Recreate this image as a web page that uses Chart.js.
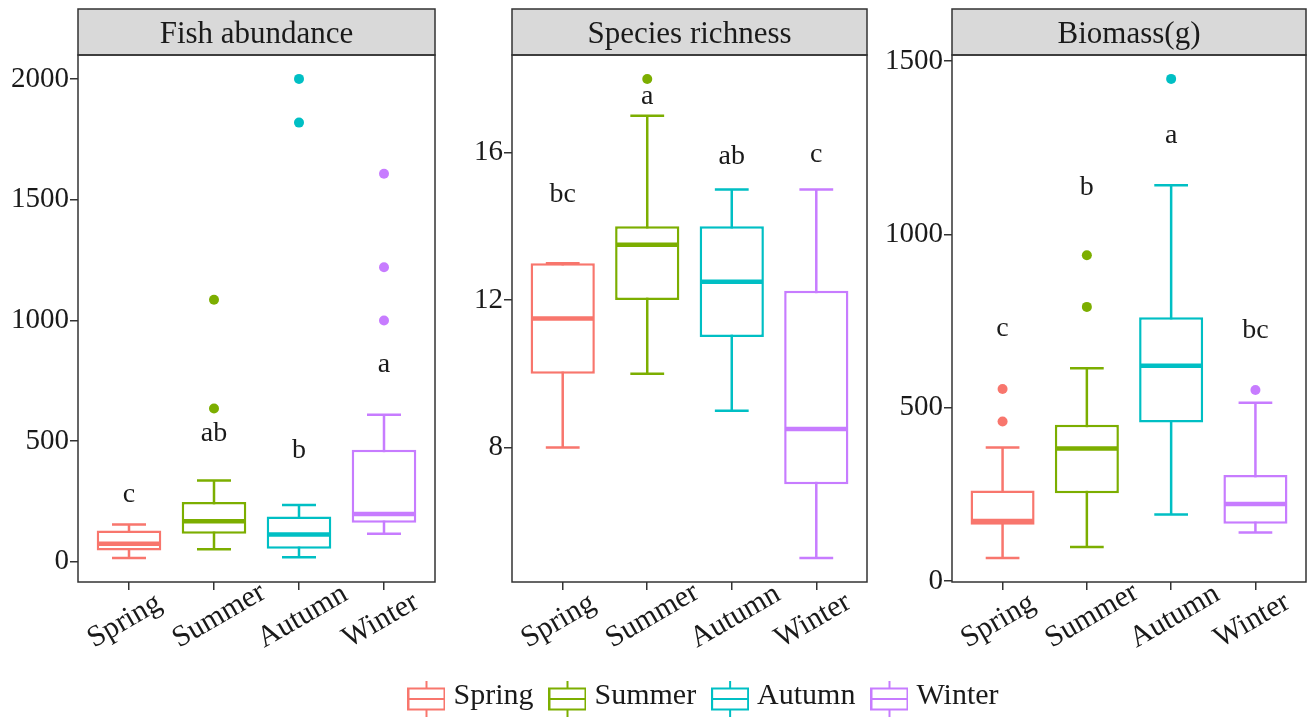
<!DOCTYPE html>
<html>
<head>
<meta charset="utf-8">
<script src="https://cdn.jsdelivr.net/npm/chart.js@4.4.0/dist/chart.umd.min.js"></script>
<style>
	body { margin: 0; background: #fff; width: 1311px; height: 718px; overflow: hidden; position: relative; }
	canvas { position: absolute; }
</style>
</head>
<body>
<canvas id="fish" width="440" height="665" style="left:0;top:0"></canvas>
<canvas id="species" width="432" height="665" style="left:440px;top:0"></canvas>
<canvas id="biomass" width="439" height="665" style="left:872px;top:0"></canvas>
<canvas id="legend" width="1217" height="120" style="left:98px;top:659px"></canvas>
<script>
	var seasons = ['Spring', 'Summer', 'Autumn', 'Winter'];
	var seasonColors = ['#F8766D', '#7CAE00', '#00BFC4', '#C77CFF'];

	// Fish abundance
	var fishLow = [15, 52, 19, 116];
	var fishQ1 = [47, 116, 54, 161];
	var fishMedian = [74, 168, 113, 198];
	var fishQ3 = [129, 247, 187, 464];
	var fishHigh = [154, 336, 235, 609];
	var fishOutliers = [[], [635, 1085], [1819, 2000], [999, 1220, 1607]];
	var fishLetters = ['c', 'ab', 'b', 'a'];
	var fishLetterY = [249, 501, 430, 785];
	var fishTicks = [0, 500, 1000, 1500, 2000];

	// Species richness
	var speciesLow = [8, 10, 9, 5];
	var speciesQ1 = [10, 12, 11, 7];
	var speciesMedian = [11.5, 13.5, 12.5, 8.5];
	var speciesQ3 = [13, 14, 14, 12.25];
	var speciesHigh = [13, 17, 15, 15];
	var speciesOutliers = [[], [18], [], []];
	var speciesLetters = ['bc', 'a', 'ab', 'c'];
	var speciesLetterY = [14.66, 17.32, 15.69, 15.74];
	var speciesTicks = [8, 12, 16];

	// Biomass(g)
	var biomassLow = [66, 98, 192, 140];
	var biomassQ1 = [162, 253, 457, 165];
	var biomassMedian = [173, 382, 621, 222];
	var biomassQ3 = [261, 451, 761, 306];
	var biomassHigh = [385, 614, 1142, 514];
	var biomassOutliers = [[460, 554], [791, 940], [1449], [551]];
	var biomassLetters = ['c', 'b', 'a', 'bc'];
	var biomassLetterY = [708, 1113, 1263, 701];
	var biomassTicks = [0, 500, 1000, 1500];

	var serif = 'Liberation Serif';
	var ink = '#1a1a1a';
	var frame = '#333333';

	/**
	 * One facet: box = floating bar (q1..q3), whiskers/medians/letters drawn
	 * with the chart's own scales in a small plugin
	 */
	function makeBoxChart(id, cfg) {
		var datasets = [{
			type: 'bar',
			data: seasons.map(function (s, i) { return {x: i + 1, y: [cfg.q1[i], cfg.q3[i]]}; }),
			backgroundColor: '#ffffff',
			borderColor: seasonColors,
			borderWidth: 2.5,
			borderSkipped: false,
			barPercentage: 0.76,
			categoryPercentage: 1
		}];
		cfg.outliers.forEach(function (vals, i) {
			datasets.push({
				type: 'scatter',
				data: vals.map(function (v) { return {x: i + 1, y: v}; }),
				pointRadius: 5,
				pointBackgroundColor: seasonColors[i],
				pointBorderWidth: 0
			});
		});

		var boxParts = {
			id: 'boxParts',
			beforeDraw: function (chart) {
				var a = chart.chartArea, ctx = chart.ctx;
				ctx.save();
				ctx.fillStyle = '#d9d9d9';
				ctx.fillRect(a.left, a.top - 46, a.right - a.left, 46);
				ctx.strokeStyle = frame;
				ctx.lineWidth = 1.5;
				ctx.strokeRect(a.left, a.top - 46, a.right - a.left, 46);
				ctx.restore();
			},
			beforeDatasetsDraw: function (chart) {
				var xs = chart.scales.x, ys = chart.scales.y, ctx = chart.ctx;
				ctx.save();
				ctx.lineWidth = 2.5;
				seasons.forEach(function (s, i) {
					var cx = xs.getPixelForValue(i + 1);
					var half = xs.getPixelForValue(i + 1.2) - cx;
					ctx.strokeStyle = seasonColors[i];
					ctx.beginPath();
					ctx.moveTo(cx, ys.getPixelForValue(cfg.low[i]));
					ctx.lineTo(cx, ys.getPixelForValue(cfg.high[i]));
					[cfg.low[i], cfg.high[i]].forEach(function (v) {
						var py = ys.getPixelForValue(v);
						ctx.moveTo(cx - half, py);
						ctx.lineTo(cx + half, py);
					});
					ctx.stroke();
				});
				ctx.restore();
			},
			afterDatasetsDraw: function (chart) {
				var xs = chart.scales.x, ys = chart.scales.y, ctx = chart.ctx;
				var a = chart.chartArea;
				ctx.save();
				// medians
				ctx.lineWidth = 4.5;
				seasons.forEach(function (s, i) {
					var cx = xs.getPixelForValue(i + 1);
					var half = xs.getPixelForValue(i + 1.38) - cx - 1;
					var py = ys.getPixelForValue(cfg.median[i]);
					ctx.strokeStyle = seasonColors[i];
					ctx.beginPath();
					ctx.moveTo(cx - half, py);
					ctx.lineTo(cx + half, py);
					ctx.stroke();
				});
				// significance letters
				ctx.fillStyle = ink;
				ctx.font = '28px "' + serif + '"';
				ctx.textAlign = 'center';
				ctx.textBaseline = 'alphabetic';
				cfg.letters.forEach(function (t, i) {
					ctx.fillText(t, xs.getPixelForValue(i + 1), ys.getPixelForValue(cfg.letterY[i]));
				});
				// rotated season labels under the axis
				ctx.font = '30px "' + serif + '"';
				ctx.textAlign = 'left';
				seasons.forEach(function (s, i) {
					ctx.save();
					ctx.translate(xs.getPixelForValue(i + 1) - 35, a.bottom + 66);
					ctx.rotate(-Math.PI / 6);
					ctx.fillText(s, 0, 0);
					ctx.restore();
				});
				ctx.restore();
			},
			afterDraw: function (chart) {
				var a = chart.chartArea, ctx = chart.ctx;
				ctx.save();
				ctx.strokeStyle = frame;
				ctx.lineWidth = 1.5;
				ctx.strokeRect(a.left, a.top, a.right - a.left, a.bottom - a.top);
				ctx.restore();
			}
		};

		return new Chart(document.getElementById(id), {
			type: 'bar',
			data: {datasets: datasets},
			options: {
				responsive: false,
				animation: false,
				events: [],
				layout: {padding: {top: 9, right: cfg.padRight, left: 0, bottom: 0}},
				scales: {
					x: {
						type: 'linear',
						min: 0.4,
						max: 4.6,
						offset: false,
						afterBuildTicks: function (scale) {
							scale.ticks = seasons.map(function (s, i) { return {value: i + 1}; });
						},
						afterFit: function (scale) { scale.height = 83; },
						ticks: {display: false},
						grid: {offset: false, drawOnChartArea: false, drawTicks: true, tickLength: 8, color: frame, lineWidth: 1.5},
						border: {display: false}
					},
					y: {
						type: 'linear',
						min: cfg.min,
						max: cfg.max,
						afterBuildTicks: function (scale) {
							scale.ticks = cfg.ticks.map(function (v) { return {value: v}; });
						},
						afterFit: function (scale) { scale.width = cfg.axisWidth; },
						ticks: {
							color: ink,
							padding: 1,
							font: {family: serif, size: 29},
							callback: function (value) { return String(value); }
						},
						grid: {drawOnChartArea: false, drawTicks: true, tickLength: 8, color: frame, lineWidth: 1.5},
						border: {display: false}
					}
				},
				plugins: {
					legend: {display: false},
					tooltip: {enabled: false},
					title: {
						display: true,
						text: cfg.title,
						fullSize: false,
						color: ink,
						font: {family: serif, size: 31, weight: 'normal', lineHeight: 1.2},
						padding: {top: 7, bottom: 1.8}
					}
				}
			},
			plugins: [boxParts]
		});
	}

	makeBoxChart('fish', {
		title: 'Fish abundance', min: -84, max: 2099, axisWidth: 78, padRight: 5,
		low: fishLow, q1: fishQ1, median: fishMedian, q3: fishQ3, high: fishHigh,
		outliers: fishOutliers, letters: fishLetters, letterY: fishLetterY, ticks: fishTicks
	});
	makeBoxChart('species', {
		title: 'Species richness', min: 4.35, max: 18.65, axisWidth: 72, padRight: 3,
		low: speciesLow, q1: speciesQ1, median: speciesMedian, q3: speciesQ3, high: speciesHigh,
		outliers: speciesOutliers, letters: speciesLetters, letterY: speciesLetterY, ticks: speciesTicks
	});
	makeBoxChart('biomass', {
		title: 'Biomass(g)', min: -3, max: 1518, axisWidth: 80, padRight: 3,
		low: biomassLow, q1: biomassQ1, median: biomassMedian, q3: biomassQ3, high: biomassHigh,
		outliers: biomassOutliers, letters: biomassLetters, letterY: biomassLetterY, ticks: biomassTicks
	});

	/**
	 * Legend key: a little box-and-whisker glyph per season
	 */
	function legendIcon(color) {
		var c = document.createElement('canvas');
		c.width = 38;
		c.height = 46;
		var g = c.getContext('2d');
		g.strokeStyle = color;
		g.lineWidth = 2;
		g.beginPath();
		g.moveTo(19, 8);
		g.lineTo(19, 44);
		g.stroke();
		g.fillStyle = '#ffffff';
		g.fillRect(1, 15.5, 36, 21);
		g.strokeRect(1, 15.5, 36, 21);
		g.beginPath();
		g.moveTo(1, 26);
		g.lineTo(37, 26);
		g.stroke();
		return c;
	}

	new Chart(document.getElementById('legend'), {
		type: 'line',
		data: {
			datasets: seasons.map(function (s, i) {
				return {label: s, data: [], borderColor: seasonColors[i], pointStyle: legendIcon(seasonColors[i])};
			})
		},
		options: {
			responsive: false,
			animation: false,
			events: [],
			scales: {x: {display: false}, y: {display: false}},
			plugins: {
				tooltip: {enabled: false},
				legend: {
					position: 'top',
					maxHeight: 110,
					labels: {
						usePointStyle: true,
						pointStyleWidth: 24,
						padding: 22,
						color: ink,
						font: {family: serif, size: 30}
					}
				}
			}
		}
	});
</script>
</body>
</html>
